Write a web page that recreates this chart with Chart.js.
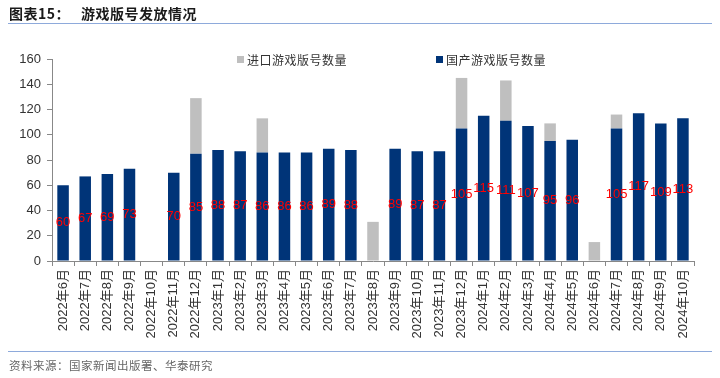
<!DOCTYPE html>
<html>
<head>
<meta charset="utf-8">
<script src="https://cdn.jsdelivr.net/npm/chart.js@4.4.1/dist/chart.umd.min.js"></script>
<style>
  html, body { margin: 0; padding: 0; background: #fff; }
  body { width: 720px; height: 378px; position: relative; overflow: hidden; font-family: "Noto Sans CJK SC", sans-serif; }
  #title { position: absolute; left: 9px; top: 3px; font-size: 14px; font-weight: bold; color: #1a1a1a; letter-spacing: 0.5px; }
  #tline { position: absolute; left: 8px; width: 704px; top: 23px; height: 0; border-top: 1px solid #8eaadb; }
  #bline { position: absolute; left: 8px; width: 704px; top: 351px; height: 0; border-top: 1px solid #8eaadb; }
  #source { position: absolute; left: 9px; top: 357px; font-size: 11.5px; color: #666; letter-spacing: 0.5px; }
  .leg { position: absolute; top: 51px; font-size: 12px; color: #333; display: flex; align-items: center; letter-spacing: 0.5px; }
  .sw { display: inline-block; width: 7px; height: 7px; margin-right: 3px; }
  #wrap { position: absolute; left: 0; top: 0; width: 720px; height: 378px; }
</style>
</head>
<body>
<div id="wrap"><canvas id="c" width="720" height="378"></canvas></div>
<div id="title">图表15：&nbsp;&nbsp;&nbsp;游戏版号发放情况</div>
<div id="tline"></div>
<div class="leg" style="left:237px"><span class="sw" style="background:#bfbfbf"></span>进口游戏版号数量</div>
<div class="leg" style="left:436px"><span class="sw" style="background:#003478"></span>国产游戏版号数量</div>
<div id="bline"></div>
<div id="source">资料来源：国家新闻出版署、华泰研究</div>
<script>
const categories = ['2022年6月','2022年7月','2022年8月','2022年9月','2022年10月','2022年11月','2022年12月',
  '2023年1月','2023年2月','2023年3月','2023年4月','2023年5月','2023年6月','2023年7月','2023年8月','2023年9月',
  '2023年10月','2023年11月','2023年12月','2024年1月','2024年2月','2024年3月','2024年4月','2024年5月',
  '2024年6月','2024年7月','2024年8月','2024年9月','2024年10月'];
const domestic = [60,67,69,73,null,70,85,88,87,86,86,86,89,88,null,89,87,87,105,115,111,107,95,96,null,105,117,109,113];
const imported = [null,null,null,null,null,null,44,null,null,27,null,null,null,null,31,null,null,null,40,null,32,null,14,null,15,11,null,null,null];
const yTicks = [0,20,40,60,80,100,120,140,160];

const labelPlugin = {
  id: 'midLabels',
  afterDatasetsDraw(chart) {
    const ctx = chart.ctx;
    const meta = chart.getDatasetMeta(0);
    ctx.save();
    ctx.fillStyle = '#ff0000';
    ctx.font = '13px "Liberation Sans", Arial, sans-serif';
    ctx.textAlign = 'center';
    ctx.textBaseline = 'middle';
    meta.data.forEach((el, i) => {
      const v = domestic[i];
      if (v) ctx.fillText(String(v), el.x, (el.y + el.base) / 2);
    });
    ctx.restore();
  }
};

new Chart(document.getElementById('c'), {
  type: 'bar',
  data: {
    labels: categories,
    datasets: [
      { label: '国产游戏版号数量', data: domestic, backgroundColor: '#003478', barPercentage: 0.52, categoryPercentage: 1.0 },
      { label: '进口游戏版号数量', data: imported, backgroundColor: '#bfbfbf', barPercentage: 0.52, categoryPercentage: 1.0 }
    ]
  },
  options: {
    responsive: false,
    animation: false,
    layout: { padding: { top: 59, right: 26, left: 0, bottom: 0 } },
    plugins: { legend: { display: false }, tooltip: { enabled: false } },
    scales: {
      x: {
        stacked: true,
        grid: { display: true, drawOnChartArea: false, offset: true, tickLength: 5, color: '#888' },
        border: { display: true, color: '#888', width: 1 },
        ticks: { maxRotation: 90, minRotation: 90, autoSkip: false, color: '#333', padding: 3,
          font: { size: 13, family: '"Liberation Sans", Arial, "Noto Sans CJK SC", sans-serif' } },
        afterFit(scale) { scale.height = 117; }
      },
      y: {
        stacked: true,
        min: 0, max: 160,
        afterBuildTicks(scale) { scale.ticks = yTicks.map(v => ({ value: v })); },
        grid: { display: true, drawOnChartArea: false, tickLength: 5, color: '#888' },
        border: { display: true, color: '#888', width: 1 },
        ticks: { color: '#333', padding: 6, font: { size: 13, family: '"Liberation Sans", Arial, sans-serif' } },
        afterFit(scale) { scale.width = 52; }
      }
    }
  },
  plugins: [labelPlugin]
});
</script>
</body>
</html>
